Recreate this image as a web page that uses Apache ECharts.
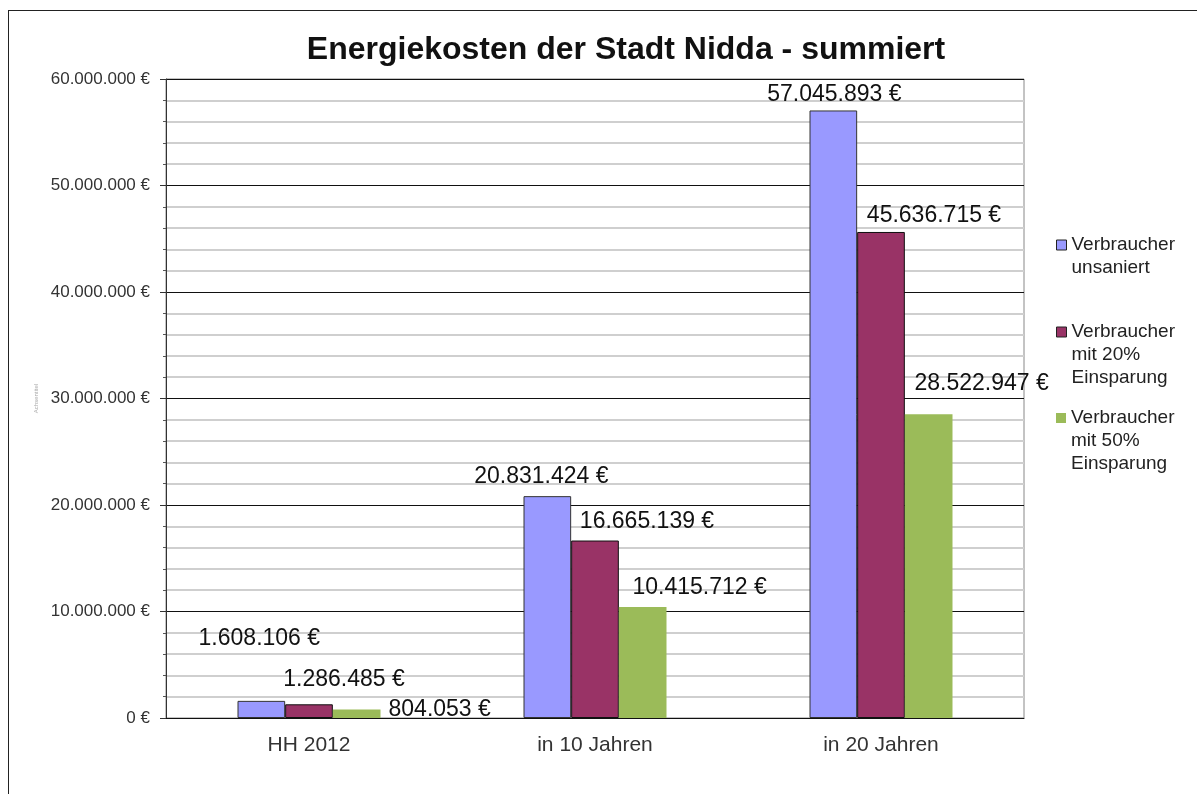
<!DOCTYPE html>
<html>
<head>
<meta charset="utf-8">
<script src="https://cdn.jsdelivr.net/npm/echarts@6/dist/echarts.min.js"></script>
<style>
  html, body { margin: 0; padding: 0; background: #fff; }
  #frame { position: absolute; left: 8px; top: 10px; width: 1300px; height: 900px;
           border-left: 1px solid #222; border-top: 1px solid #222; }
  #main { position: absolute; left: 0; top: 0; width: 1197px; height: 794px; }
</style>
</head>
<body>
<div id="frame"></div>
<div id="main"></div>
<script>
// Kategorien und Werte
var categories = ['HH 2012', 'in 10 Jahren', 'in 20 Jahren'];
var seriesNames = ['Verbraucher unsaniert', 'Verbraucher mit 20% Einsparung', 'Verbraucher mit 50% Einsparung'];
var unsaniert = [1608106, 20831424, 57045893];
var einsparung20 = [1286485, 16665139, 45636715];
var einsparung50 = [804053, 10415712, 28522947];
var yTicks = [0, 10000000, 20000000, 30000000, 40000000, 50000000, 60000000];

// Label-Versatz wie im Excel-Original (dx, dy)
var labelOffsets = [
  [[-2, -46], [-6, -3], [1, 1]],
  [[35, -8], [52, -2], [53, 0]],
  [[83, 17], [57, -3], [53, -14]]
];

function euro(v) {
  return String(v).replace(/\B(?=(\d{3})+(?!\d))/g, '.') + ' €';
}

var colors = ['#9999ff', '#993366', '#9bbb59'];
var borders = ['#333333', '#111111', '#9bbb59'];
var values = [unsaniert, einsparung20, einsparung50];

var series = values.map(function (vals, s) {
  return {
    name: seriesNames[s],
    type: 'bar',
    barGap: 0,
    barCategoryGap: '50%',
    itemStyle: { color: colors[s], borderColor: borders[s], borderWidth: s === 2 ? 0 : 1 },
    data: vals.map(function (v, i) {
      return {
        value: v,
        label: { offset: labelOffsets[s][i] }
      };
    }),
    label: {
      show: true,
      position: 'top',
      distance: 5,
      fontFamily: 'Liberation Sans',
      fontSize: 23,
      color: '#111',
      formatter: function (p) { return euro(p.value); }
    }
  };
});

// Legende: jeder Eintrag einzeln, Symbol an der ersten Zeile
// (Leerzeilen davor, damit die erste Textzeile mittig zum Symbol steht)
var legendLines = [['Verbraucher', 'unsaniert'], ['Verbraucher', 'mit 20%', 'Einsparung'], ['Verbraucher', 'mit 50%', 'Einsparung']];
var legendTops = [245, 332, 418];
var lineH = 23;
var legends = legendLines.map(function (lines, i) {
  var n = lines.length;
  var blank = new Array(n).join('\n');
  return {
    orient: 'vertical',
    left: 1056,
    top: legendTops[i] - (2 * n - 1) * lineH / 2,
    padding: 0,
    itemWidth: 10,
    itemHeight: 10,
    icon: 'rect',
    selectedMode: false,
    data: [{
      name: seriesNames[i],
      itemStyle: { borderColor: i === 2 ? colors[2] : '#222', borderWidth: i === 2 ? 0 : 1 }
    }],
    formatter: function () { return blank + lines.join('\n'); },
    textStyle: { fontFamily: 'Liberation Sans', fontSize: 19, color: '#222', lineHeight: lineH }
  };
});

var chart = echarts.init(document.getElementById('main'));
chart.setOption({
  animation: false,
  title: {
    text: 'Energiekosten der Stadt Nidda - summiert',
    left: 621,
    textAlign: 'center',
    top: 29,
    textStyle: { fontFamily: 'Liberation Sans', fontSize: 32, fontWeight: 'bold', color: '#111' }
  },
  legend: legends,
  grid: { left: 166, right: 173, top: 79, bottom: 76, show: true, borderColor: '#888', borderWidth: 1, backgroundColor: 'transparent' },
  xAxis: {
    type: 'category',
    data: categories,
    axisTick: { show: false },
    axisLine: { lineStyle: { color: '#111', width: 1 } },
    axisLabel: { fontFamily: 'Liberation Sans', fontSize: 21, color: '#333', margin: 17 }
  },
  yAxis: {
    type: 'value',
    min: yTicks[0],
    max: yTicks[yTicks.length - 1],
    interval: 10000000,
    name: 'Achsentitel',
    nameLocation: 'middle',
    nameRotate: 90,
    nameGap: 121,
    nameTextStyle: { fontSize: 6, color: '#aaa', fontFamily: 'Liberation Sans' },
    axisLine: { show: true, lineStyle: { color: '#333', width: 1 } },
    axisTick: { show: true, length: 6, lineStyle: { color: '#333' } },
    minorTick: { show: true, splitNumber: 5, length: 3, lineStyle: { color: '#555' } },
    axisLabel: { fontFamily: 'Liberation Sans', fontSize: 17, color: '#333', margin: 16, formatter: function (v) { return euro(v); } },
    splitLine: { show: true, lineStyle: { color: '#111', width: 1 } },
    minorSplitLine: { show: true, lineStyle: { color: '#cfcfcf', width: 2 } }
  },
  series: series
});
</script>
</body>
</html>
